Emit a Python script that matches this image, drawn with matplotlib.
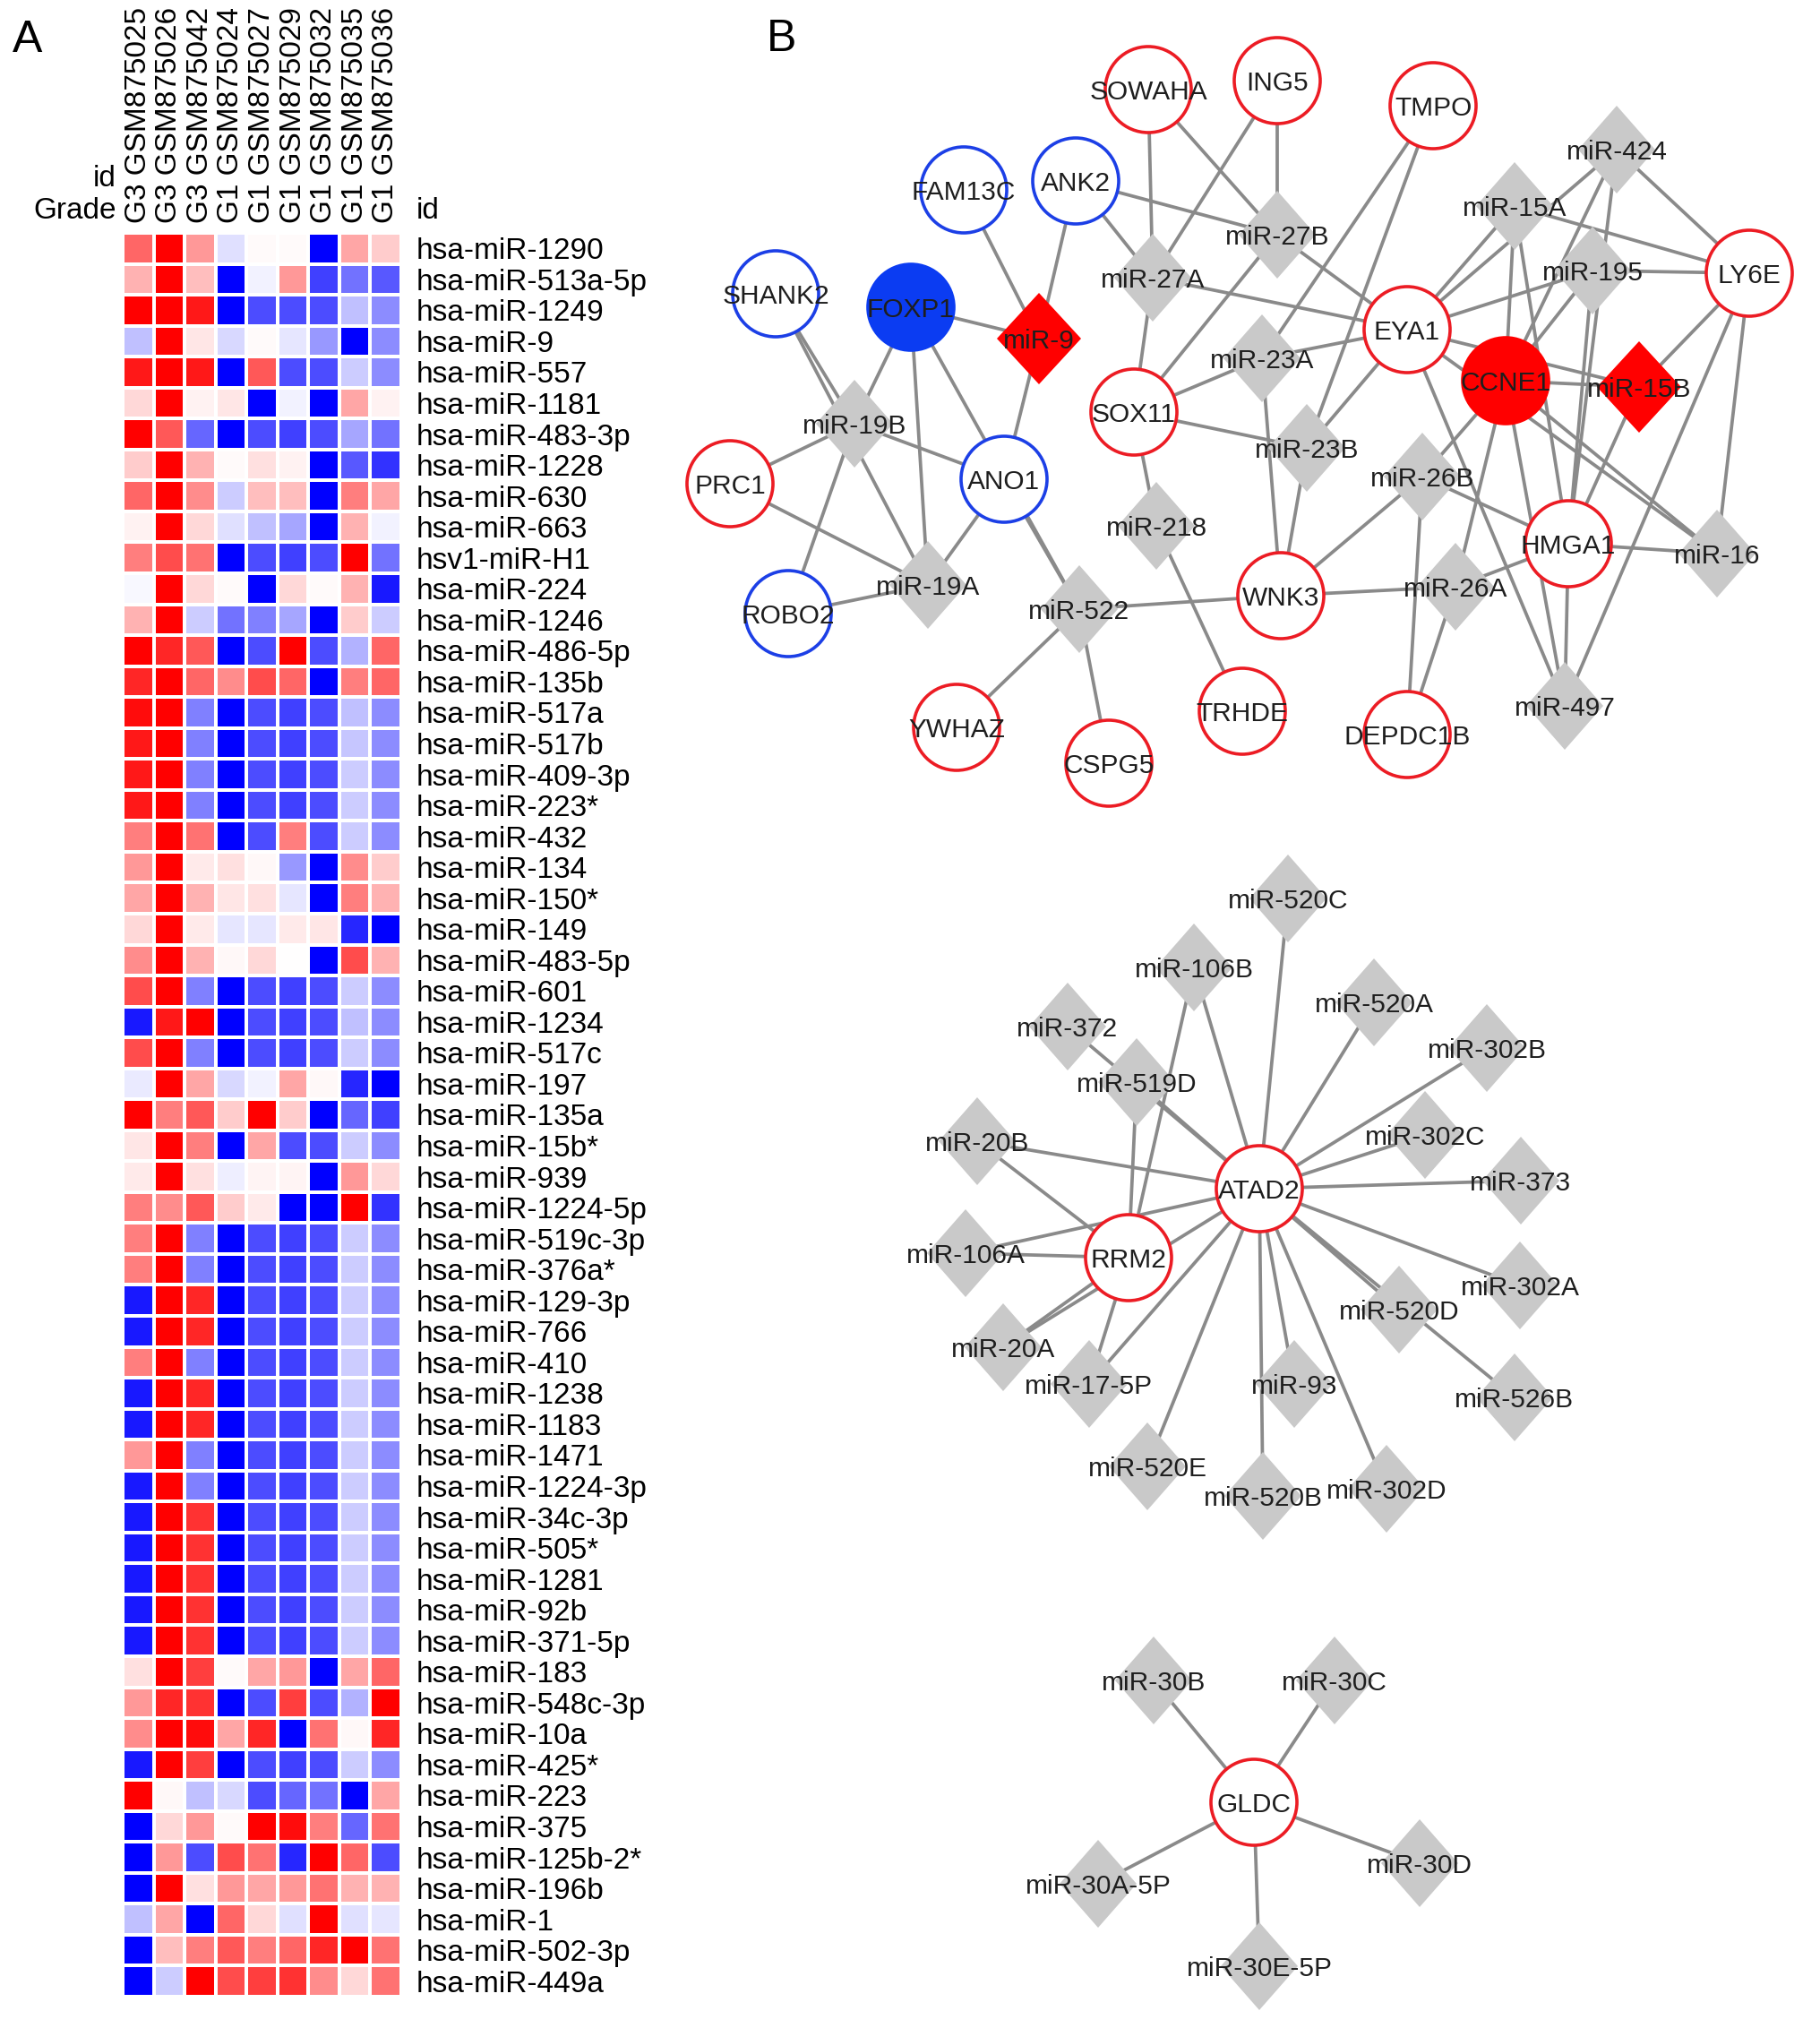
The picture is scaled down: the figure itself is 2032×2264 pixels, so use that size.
import matplotlib
matplotlib.use("Agg")
import matplotlib.pyplot as plt
import numpy as np
from matplotlib.patches import Ellipse, Polygon
from matplotlib.colors import LinearSegmentedColormap

plt.rcParams['font.family'] = ['Liberation Sans', 'DejaVu Sans']

# ---------------- Panel A data ----------------
sample_ids = ["GSM875025", "GSM875026", "GSM875042", "GSM875024", "GSM875027",
              "GSM875029", "GSM875032", "GSM875035", "GSM875036"]
grades = ["G3", "G3", "G3", "G1", "G1", "G1", "G1", "G1", "G1"]

mirnas = ["hsa-miR-1290", "hsa-miR-513a-5p", "hsa-miR-1249", "hsa-miR-9", "hsa-miR-557",
          "hsa-miR-1181", "hsa-miR-483-3p", "hsa-miR-1228", "hsa-miR-630", "hsa-miR-663",
          "hsv1-miR-H1", "hsa-miR-224", "hsa-miR-1246", "hsa-miR-486-5p", "hsa-miR-135b",
          "hsa-miR-517a", "hsa-miR-517b", "hsa-miR-409-3p", "hsa-miR-223*", "hsa-miR-432",
          "hsa-miR-134", "hsa-miR-150*", "hsa-miR-149", "hsa-miR-483-5p", "hsa-miR-601",
          "hsa-miR-1234", "hsa-miR-517c", "hsa-miR-197", "hsa-miR-135a", "hsa-miR-15b*",
          "hsa-miR-939", "hsa-miR-1224-5p", "hsa-miR-519c-3p", "hsa-miR-376a*", "hsa-miR-129-3p",
          "hsa-miR-766", "hsa-miR-410", "hsa-miR-1238", "hsa-miR-1183", "hsa-miR-1471",
          "hsa-miR-1224-3p", "hsa-miR-34c-3p", "hsa-miR-505*", "hsa-miR-1281", "hsa-miR-92b",
          "hsa-miR-371-5p", "hsa-miR-183", "hsa-miR-548c-3p", "hsa-miR-10a", "hsa-miR-425*",
          "hsa-miR-223", "hsa-miR-375", "hsa-miR-125b-2*", "hsa-miR-196b", "hsa-miR-1",
          "hsa-miR-502-3p", "hsa-miR-449a"]

expr = [
    [0.6, 1.0, 0.4, -0.12, 0.02, 0.02, -1.0, 0.35, 0.2],
    [0.3, 1.0, 0.25, -1.0, -0.05, 0.4, -0.75, -0.55, -0.65],
    [1.0, 1.0, 0.9, -1.0, -0.7, -0.7, -0.7, -0.25, -0.45],
    [-0.25, 1.0, 0.1, -0.15, 0.02, -0.1, -0.4, -1.0, -0.45],
    [0.9, 1.0, 0.9, -1.0, 0.65, -0.7, -0.7, -0.2, -0.45],
    [0.15, 1.0, 0.05, 0.1, -1.0, -0.05, -1.0, 0.35, 0.05],
    [1.0, 0.65, -0.6, -1.0, -0.7, -0.75, -0.7, -0.35, -0.55],
    [0.2, 1.0, 0.3, 0.02, 0.12, 0.05, -1.0, -0.65, -0.8],
    [0.6, 1.0, 0.45, -0.2, 0.25, 0.25, -1.0, 0.5, 0.35],
    [0.05, 1.0, 0.15, -0.12, -0.25, -0.35, -1.0, 0.3, -0.05],
    [0.5, 0.7, 0.55, -1.0, -0.7, -0.75, -0.7, 1.0, -0.55],
    [-0.03, 1.0, 0.15, 0.02, -1.0, 0.15, 0.02, 0.3, -0.9],
    [0.3, 1.0, -0.2, -0.55, -0.5, -0.35, -1.0, 0.2, -0.2],
    [1.0, 0.85, 0.65, -1.0, -0.7, 1.0, -0.7, -0.3, 0.6],
    [0.85, 1.0, 0.6, 0.45, 0.7, 0.6, -1.0, 0.5, 0.6],
    [0.95, 1.0, -0.5, -1.0, -0.7, -0.75, -0.7, -0.25, -0.45],
    [0.9, 1.0, -0.5, -1.0, -0.7, -0.75, -0.7, -0.22, -0.45],
    [0.9, 1.0, -0.5, -1.0, -0.7, -0.75, -0.7, -0.2, -0.45],
    [0.9, 1.0, -0.5, -1.0, -0.7, -0.75, -0.7, -0.2, -0.45],
    [0.5, 1.0, 0.55, -1.0, -0.7, 0.5, -0.7, -0.2, -0.45],
    [0.4, 1.0, 0.08, 0.12, 0.03, -0.4, -1.0, 0.45, 0.2],
    [0.35, 1.0, 0.3, 0.1, 0.12, -0.1, -1.0, 0.5, 0.3],
    [0.15, 1.0, 0.08, -0.1, -0.1, 0.08, 0.1, -0.85, -1.0],
    [0.45, 1.0, 0.3, 0.03, 0.15, 0.0, -1.0, 0.7, 0.3],
    [0.7, 1.0, -0.5, -1.0, -0.7, -0.75, -0.7, -0.2, -0.45],
    [-0.9, 0.9, 1.0, -1.0, -0.7, -0.75, -0.7, -0.25, -0.45],
    [0.7, 1.0, -0.5, -1.0, -0.7, -0.75, -0.7, -0.2, -0.45],
    [-0.08, 1.0, 0.35, -0.15, -0.05, 0.35, 0.03, -0.85, -1.0],
    [1.0, 0.5, 0.65, 0.2, 1.0, 0.2, -1.0, -0.6, -0.75],
    [0.1, 1.0, 0.5, -1.0, 0.35, -0.7, -0.7, -0.2, -0.45],
    [0.08, 1.0, 0.12, -0.07, 0.04, 0.04, -1.0, 0.4, 0.15],
    [0.5, 0.45, 0.65, 0.2, 0.08, -1.0, -1.0, 1.0, -0.8],
    [0.5, 1.0, -0.5, -1.0, -0.7, -0.75, -0.7, -0.2, -0.45],
    [0.5, 1.0, -0.5, -1.0, -0.7, -0.75, -0.7, -0.2, -0.45],
    [-0.9, 1.0, 0.85, -1.0, -0.7, -0.75, -0.7, -0.2, -0.45],
    [-0.9, 1.0, 0.85, -1.0, -0.7, -0.75, -0.7, -0.2, -0.45],
    [0.5, 1.0, -0.5, -1.0, -0.7, -0.75, -0.7, -0.2, -0.45],
    [-0.9, 1.0, 0.85, -1.0, -0.7, -0.75, -0.7, -0.2, -0.45],
    [-0.9, 1.0, 0.85, -1.0, -0.7, -0.75, -0.7, -0.2, -0.45],
    [0.4, 1.0, -0.5, -1.0, -0.7, -0.75, -0.7, -0.2, -0.45],
    [-0.9, 1.0, -0.5, -1.0, -0.7, -0.75, -0.7, -0.2, -0.45],
    [-0.9, 1.0, 0.8, -1.0, -0.7, -0.75, -0.7, -0.2, -0.45],
    [-0.9, 1.0, 0.8, -1.0, -0.7, -0.75, -0.7, -0.2, -0.45],
    [-0.9, 1.0, 0.8, -1.0, -0.7, -0.75, -0.7, -0.2, -0.45],
    [-0.9, 1.0, 0.8, -1.0, -0.7, -0.75, -0.7, -0.2, -0.45],
    [-0.9, 1.0, 0.8, -1.0, -0.7, -0.75, -0.7, -0.2, -0.45],
    [0.12, 1.0, 0.75, 0.02, 0.35, 0.4, -1.0, 0.35, 0.6],
    [0.4, 0.85, 0.8, -1.0, -0.7, 0.75, -0.7, -0.3, 1.0],
    [0.45, 1.0, 0.95, 0.35, 0.85, -1.0, 0.55, 0.03, 0.85],
    [-0.9, 1.0, 0.75, -1.0, -0.7, -0.75, -0.7, -0.2, -0.45],
    [1.0, 0.03, -0.25, -0.15, -0.7, -0.6, -0.55, -1.0, 0.35],
    [-1.0, 0.15, 0.4, 0.02, 1.0, 0.95, 0.5, -0.6, 0.55],
    [-1.0, 0.4, -0.7, 0.7, 0.55, -0.85, 1.0, 0.6, -0.7],
    [-1.0, 1.0, 0.12, 0.4, 0.35, 0.4, 0.55, 0.3, 0.3],
    [-0.25, 0.35, -1.0, 0.6, 0.15, -0.12, 1.0, -0.12, -0.1],
    [-1.0, 0.25, 0.5, 0.65, 0.5, 0.6, 0.85, 1.0, 0.55],
    [-1.0, -0.2, 1.0, 0.7, 0.75, 0.8, 0.45, 0.15, 0.55],
]

# ---------------- Panel B data ----------------
genes_up = ["SOWAHA", "ING5", "TMPO", "LY6E", "EYA1", "SOX11", "PRC1", "HMGA1", "WNK3",
            "YWHAZ", "CSPG5", "TRHDE", "DEPDC1B", "ATAD2", "RRM2", "GLDC"]
genes_down = ["FAM13C", "ANK2", "SHANK2", "ANO1", "ROBO2"]
hub_up = ["CCNE1"]
hub_down = ["FOXP1"]
mirna_key = ["miR-9", "miR-15B"]

layout = {
    "SOWAHA": (1282, 100), "ING5": (1426, 90), "TMPO": (1600, 118),
    "FAM13C": (1076, 212), "ANK2": (1201, 202), "SHANK2": (866, 328),
    "FOXP1": (1017, 343), "miR-9": (1160, 378), "miR-27A": (1287, 310),
    "miR-27B": (1426, 262), "miR-424": (1805, 167), "miR-15A": (1691, 230),
    "miR-195": (1778, 302), "LY6E": (1953, 305), "EYA1": (1571, 368),
    "miR-23A": (1409, 400), "CCNE1": (1681, 425), "miR-15B": (1830, 432),
    "miR-19B": (954, 473), "PRC1": (815, 540), "ANO1": (1121, 535),
    "SOX11": (1266, 460), "miR-218": (1291, 587), "miR-19A": (1036, 653),
    "ROBO2": (880, 685), "miR-522": (1205, 680), "YWHAZ": (1068, 812),
    "CSPG5": (1238, 852), "TRHDE": (1387, 794), "miR-23B": (1459, 500),
    "miR-26B": (1588, 532), "WNK3": (1430, 665), "miR-26A": (1625, 655),
    "HMGA1": (1751, 607), "miR-16": (1917, 618), "DEPDC1B": (1571, 820),
    "miR-497": (1747, 788),
    "miR-520C": (1438, 1003), "miR-106B": (1333, 1080), "miR-520A": (1534, 1119),
    "miR-372": (1192, 1146), "miR-302B": (1660, 1170), "miR-519D": (1269, 1208),
    "miR-302C": (1591, 1267), "miR-20B": (1091, 1274), "ATAD2": (1406, 1327),
    "miR-373": (1698, 1318), "RRM2": (1260, 1404), "miR-106A": (1078, 1399),
    "miR-302A": (1697, 1435), "miR-520D": (1562, 1462), "miR-20A": (1120, 1504),
    "miR-17-5P": (1216, 1545), "miR-93": (1445, 1545), "miR-526B": (1691, 1560),
    "miR-520E": (1281, 1637), "miR-520B": (1410, 1670), "miR-302D": (1548, 1662),
    "GLDC": (1400, 2012), "miR-30B": (1288, 1876), "miR-30C": (1490, 1876),
    "miR-30D": (1585, 2080), "miR-30A-5P": (1226, 2103), "miR-30E-5P": (1406, 2195),
}

edges = [
    ("FAM13C", "miR-9"), ("ANK2", "miR-9"), ("FOXP1", "miR-9"), ("miR-9", "ANO1"),
    ("ANK2", "miR-27A"), ("ANK2", "miR-27B"), ("SOWAHA", "miR-27A"), ("SOWAHA", "miR-27B"),
    ("ING5", "miR-27A"), ("ING5", "miR-27B"), ("miR-27A", "EYA1"), ("miR-27A", "SOX11"),
    ("SOX11", "miR-27B"), ("SOX11", "miR-23A"), ("SOX11", "miR-23B"), ("SOX11", "miR-218"),
    ("miR-27B", "EYA1"), ("TMPO", "miR-23A"), ("TMPO", "miR-23B"),
    ("EYA1", "miR-23A"), ("EYA1", "miR-23B"), ("EYA1", "miR-15A"), ("EYA1", "miR-424"),
    ("EYA1", "miR-195"), ("EYA1", "miR-15B"), ("EYA1", "miR-16"), ("EYA1", "miR-497"),
    ("miR-424", "LY6E"), ("miR-424", "CCNE1"), ("miR-424", "HMGA1"),
    ("miR-15A", "LY6E"), ("miR-15A", "CCNE1"), ("miR-15A", "HMGA1"),
    ("miR-195", "LY6E"), ("miR-195", "CCNE1"), ("miR-195", "HMGA1"),
    ("LY6E", "miR-15B"), ("LY6E", "miR-16"), ("LY6E", "miR-497"),
    ("CCNE1", "miR-15B"), ("CCNE1", "miR-16"), ("CCNE1", "miR-497"),
    ("CCNE1", "miR-26A"), ("CCNE1", "miR-26B"),
    ("HMGA1", "miR-15B"), ("HMGA1", "miR-16"), ("HMGA1", "miR-497"),
    ("HMGA1", "miR-26A"), ("HMGA1", "miR-26B"),
    ("miR-23A", "WNK3"), ("miR-23B", "WNK3"), ("miR-26B", "WNK3"), ("miR-26A", "WNK3"),
    ("miR-522", "WNK3"), ("miR-26B", "DEPDC1B"), ("miR-26A", "DEPDC1B"), ("miR-218", "TRHDE"),
    ("SHANK2", "miR-19B"), ("SHANK2", "miR-19A"), ("FOXP1", "miR-19B"), ("FOXP1", "miR-19A"),
    ("FOXP1", "miR-522"), ("PRC1", "miR-19B"), ("PRC1", "miR-19A"), ("ROBO2", "miR-19B"),
    ("ROBO2", "miR-19A"), ("ANO1", "miR-19B"), ("ANO1", "miR-19A"), ("ANO1", "miR-522"),
    ("miR-522", "YWHAZ"), ("miR-522", "CSPG5"),
    ("ATAD2", "miR-520C"), ("ATAD2", "miR-106B"), ("ATAD2", "miR-520A"), ("ATAD2", "miR-302B"),
    ("ATAD2", "miR-519D"), ("ATAD2", "miR-372"), ("ATAD2", "miR-302C"), ("ATAD2", "miR-20B"),
    ("ATAD2", "miR-373"), ("ATAD2", "miR-302A"), ("ATAD2", "miR-520D"), ("ATAD2", "miR-526B"),
    ("ATAD2", "miR-17-5P"), ("ATAD2", "miR-20A"), ("ATAD2", "miR-520E"), ("ATAD2", "miR-520B"),
    ("ATAD2", "miR-93"), ("ATAD2", "miR-302D"), ("ATAD2", "miR-106A"),
    ("RRM2", "miR-519D"), ("RRM2", "miR-106B"), ("RRM2", "miR-20B"), ("RRM2", "miR-106A"),
    ("RRM2", "miR-20A"), ("RRM2", "miR-17-5P"),
    ("GLDC", "miR-30B"), ("GLDC", "miR-30C"), ("GLDC", "miR-30D"),
    ("GLDC", "miR-30A-5P"), ("GLDC", "miR-30E-5P"),
]

# ---------------- Figure ----------------
W, H = 2032, 2264
fig = plt.figure(figsize=(W / 100, H / 100), dpi=100)
fig.patch.set_facecolor("white")

axn = fig.add_axes([0, 0, 1, 1])
axn.set_xlim(0, W)
axn.set_ylim(H, 0)
axn.axis("off")
axn.patch.set_visible(False)

EDGE_C = "#8a8a8a"
RED_LINE = "#ec1c24"
RED_FILL = "#ff0000"
BLUE_LINE = "#1c3fe6"
BLUE_FILL = "#0b3cf2"
for a, b in edges:
    xa, ya = layout[a]
    xb, yb = layout[b]
    axn.plot([xa, xb], [ya, yb], color=EDGE_C, lw=2.7, zorder=1, solid_capstyle="butt")

R = 48
DW, DH = 43, 49
for name, (x, y) in layout.items():
    if name.startswith("miR"):
        fc = RED_FILL if name in mirna_key else "#c9c9c9"
        dw, dh = (DW + 4, DH + 2) if name in mirna_key else (DW, DH)
        axn.add_patch(Polygon([(x, y - dh), (x + dw, y), (x, y + dh), (x - dw, y)],
                              closed=True, facecolor=fc, edgecolor="none", zorder=2))
    else:
        if name in hub_up:
            fc, ec = RED_FILL, RED_FILL
        elif name in hub_down:
            fc, ec = BLUE_FILL, BLUE_FILL
        elif name in genes_down:
            fc, ec = "white", BLUE_LINE
        else:
            fc, ec = "white", RED_LINE
        axn.add_patch(Ellipse((x, y), 2 * R, 2 * R, facecolor=fc, edgecolor=ec,
                              lw=2.6, zorder=3))
for name, (x, y) in layout.items():
    axn.text(x, y, name, ha="center", va="center_baseline", fontsize=21.5,
             color="#1e1e1e", zorder=5)

# Heatmap
left, right, top, bottom = 137, 448, 260, 2229
axh = fig.add_axes([left / W, 1 - bottom / H, (right - left) / W, (bottom - top) / H])
data = np.array(expr)
cmap = LinearSegmentedColormap.from_list("bwr_ref", ["#0000ff", "#ffffff", "#ff0000"])
axh.pcolormesh(np.arange(len(sample_ids) + 1), np.arange(len(mirnas) + 1), data,
               cmap=cmap, vmin=-1, vmax=1, edgecolors="white", linewidth=1.6)
axh.set_xlim(0, len(sample_ids))
axh.set_ylim(len(mirnas), 0)
axh.yaxis.tick_right()
axh.set_yticks(np.arange(len(mirnas)) + 0.5)
axh.set_yticklabels(mirnas, fontsize=24)
axh.tick_params(axis="y", length=0, pad=12)
axh.xaxis.tick_top()
axh.set_xticks(np.arange(len(sample_ids)) + 0.5)
axh.set_xticklabels([f"{g} {s}" for g, s in zip(grades, sample_ids)], rotation=90, fontsize=24)
axh.tick_params(axis="x", length=0, pad=8)
for s in axh.spines.values():
    s.set_visible(False)

fig.text(130 / W, 1 - 235 / H, "Grade", ha="right", va="center", fontsize=24)
fig.text(130 / W, 1 - 200 / H, "id", ha="right", va="center", fontsize=24)
fig.text(465 / W, 1 - 235 / H, "id", ha="left", va="center", fontsize=24)

fig.text(14 / W, 1 - 58 / H, "A", ha="left", va="baseline", fontsize=36)
fig.text(856 / W, 1 - 57 / H, "B", ha="left", va="baseline", fontsize=36)

fig.savefig("out.png", dpi=100, facecolor="white")
